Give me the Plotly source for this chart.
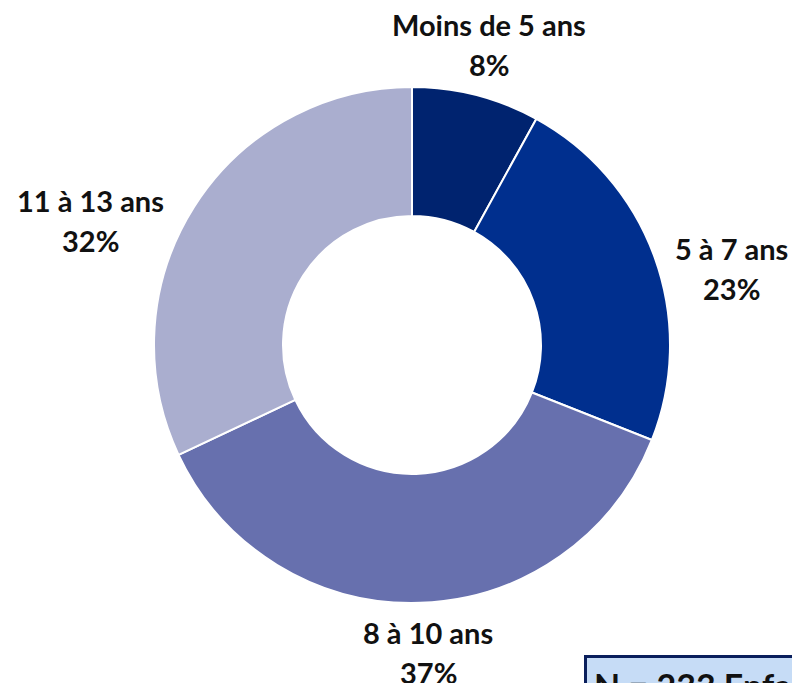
import plotly.graph_objects as go

categories = ["Moins de 5 ans", "5 à 7 ans", "8 à 10 ans", "11 à 13 ans"]
values = [8, 23, 37, 32]
colors = ["#00236f", "#002f8e", "#6770ae", "#aaaecf"]

W, H = 792, 683
cx, cy, R = 412, 345, 258

fig = go.Figure(go.Pie(
    labels=categories, values=values, sort=False, direction="clockwise",
    rotation=0, hole=0.5, textinfo="none", hoverinfo="label+percent",
    marker=dict(colors=colors, line=dict(color="white", width=2)),
    domain=dict(x=[(cx - R) / W, (cx + R) / W], y=[(H - cy - R) / H, (H - cy + R) / H]),
    showlegend=False,
))

label_pos = [(489, 24), (731, 248), (428, 632), (90, 200)]
font = dict(family="Lato, Open Sans, sans-serif", size=29, color="#111111")
ann = []
for cat, v, (x, y) in zip(categories, values, label_pos):
    ann.append(dict(x=x / W, y=1 - y / H, xref="paper", yref="paper", showarrow=False,
                    text="<b>%s</b>" % cat, font=font, xanchor="center", yanchor="middle"))
    ann.append(dict(x=x / W, y=1 - (y + 40) / H, xref="paper", yref="paper", showarrow=False,
                    text="<b>%d%%</b>" % v, font=font, xanchor="center", yanchor="middle"))
ann.append(dict(x=584 / W, y=1 - 655 / H, xref="paper", yref="paper", showarrow=False,
                xanchor="left", yanchor="top", align="left",
                text="<b>N = 233 Enfants</b>",
                font=dict(family="Lato, Open Sans, sans-serif", size=34, color="#111111"),
                bgcolor="#c6dcf6", bordercolor="#0a1f5c", borderwidth=3, borderpad=7))

fig.update_layout(width=W, height=H, margin=dict(l=0, r=0, t=0, b=0),
                  paper_bgcolor="white", plot_bgcolor="white", annotations=ann)
fig.write_html("out.html", config={"displayModeBar": False},
               post_script="document.body.style.margin='0';document.body.style.overflow='hidden';")
